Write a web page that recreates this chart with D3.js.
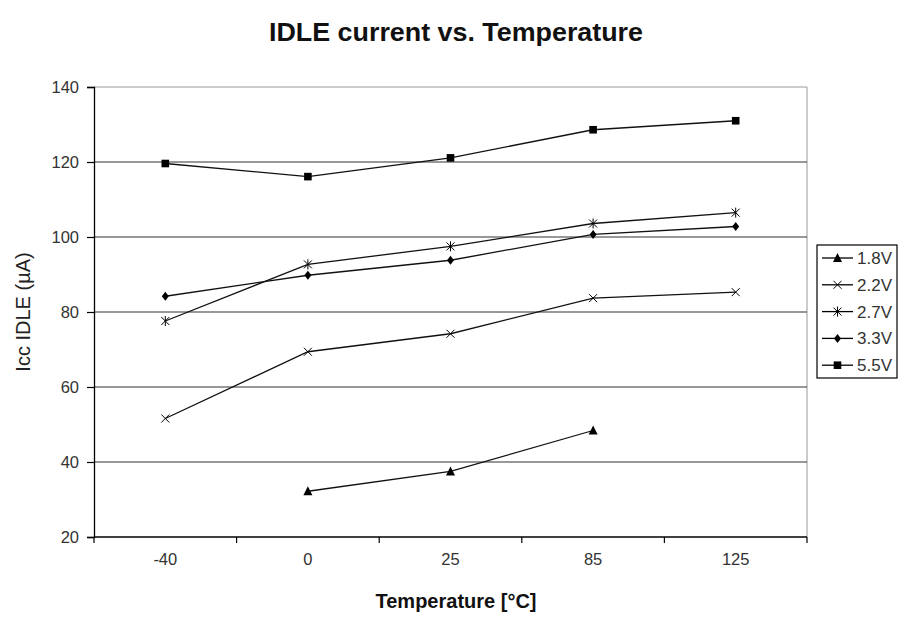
<!DOCTYPE html>
<html>
<head>
<meta charset="utf-8">
<script src="https://cdn.jsdelivr.net/npm/d3@7"></script>
<style>
  body { margin: 0; background: #fff; }
  text { font-family: "Liberation Sans", Arial, sans-serif; }
</style>
</head>
<body>
<script>
// temperature categories on the x axis
var temps = ["-40", "0", "25", "85", "125"];
var yTicks = [20, 40, 60, 80, 100, 120, 140];

// Icc IDLE values (uA), null where no point
var v18 = [null, 32.2, 37.5, 48.4, null];
var v22 = [51.6, 69.4, 74.2, 83.7, 85.3];
var v27 = [77.6, 92.7, 97.5, 103.6, 106.5];
var v33 = [84.2, 89.8, 93.8, 100.7, 102.8];
var v55 = [119.6, 116.1, 121.1, 128.6, 131.0];

var seriesNames = ["1.8V", "2.2V", "2.7V", "3.3V", "5.5V"];
var seriesVals = [v18, v22, v27, v33, v55];
var markers = ["triangle", "cross", "star", "diamond", "square"];

drawChart();

function drawChart(){
    var width = 899, height = 642;
    var pLeft = 94, pRight = 807, pTop = 87, pBottom = 537;

    var svg = d3.select("body").append("svg")
        .attr("width", width)
        .attr("height", height);

    var x = d3.scaleBand().domain(temps).range([pLeft, pRight]);
    var y = d3.scaleLinear().domain([20, 140]).range([pBottom, pTop]);

    //plot border (top and right, light grey)
    svg.append("path")
        .attr("d", "M" + pLeft + "," + y(140) + "H" + pRight + "V" + pBottom)
        .attr("fill", "none")
        .attr("stroke", "#999")
        .attr("stroke-width", 1);

    //gridlines
    svg.selectAll(".grid")
        .data(yTicks.filter(function(d){ return d > 20 && d < 140; }))
        .enter().append("line")
        .attr("x1", pLeft).attr("x2", pRight)
        .attr("y1", function(d){ return y(d); })
        .attr("y2", function(d){ return y(d); })
        .attr("stroke", "#333")
        .attr("stroke-width", 1.2);

    //y axis
    var yAxis = svg.append("g")
        .attr("transform", "translate(" + pLeft + ",0)")
        .call(d3.axisLeft(y).tickValues(yTicks).tickSize(7).tickPadding(8));
    yAxis.select(".domain").attr("stroke", "#000").attr("stroke-width", 1.3);
    yAxis.selectAll(".tick line").attr("stroke", "#000").attr("stroke-width", 1.2);
    yAxis.selectAll("text").attr("font-size", 16.5).attr("fill", "#333")
        .style("font-family", "'Liberation Sans', Arial, sans-serif");

    //x axis: labels in the middle of bands, ticks at band edges
    var xAxis = svg.append("g")
        .attr("transform", "translate(0," + pBottom + ")")
        .call(d3.axisBottom(x).tickSize(0).tickPadding(16));
    xAxis.select(".domain").remove();
    xAxis.selectAll("text").attr("font-size", 16.5).attr("fill", "#333")
        .style("font-family", "'Liberation Sans', Arial, sans-serif");

    svg.append("line")
        .attr("x1", pLeft).attr("x2", pRight)
        .attr("y1", pBottom).attr("y2", pBottom)
        .attr("stroke", "#000").attr("stroke-width", 1.3);

    var edges = temps.map(function(t){ return x(t); }).concat([x(temps[temps.length - 1]) + x.bandwidth()]);
    svg.selectAll(".xtick")
        .data(edges)
        .enter().append("line")
        .attr("x1", function(d){ return d; }).attr("x2", function(d){ return d; })
        .attr("y1", pBottom).attr("y2", pBottom + 6)
        .attr("stroke", "#000").attr("stroke-width", 1.2);

    var line = d3.line()
        .defined(function(d){ return d.v != null; })
        .x(function(d){ return x(d.t) + x.bandwidth() / 2; })
        .y(function(d){ return y(d.v); });

    seriesVals.forEach(function(vals, i){
        var pts = vals.map(function(v, j){ return {t: temps[j], v: v}; });
        var g = svg.append("g");
        g.append("path")
            .datum(pts)
            .attr("d", line)
            .attr("fill", "none")
            .attr("stroke", "#111")
            .attr("stroke-width", 1.3);
        pts.forEach(function(p){
            if (p.v != null) drawMarker(g, markers[i], x(p.t) + x.bandwidth() / 2, y(p.v));
        });
    });

    //legend
    var lg = svg.append("g").attr("transform", "translate(817,245)");
    lg.append("rect").attr("x", 0).attr("y", 0).attr("width", 80).attr("height", 133)
        .attr("fill", "#fff").attr("stroke", "#000").attr("stroke-width", 1.2);
    seriesNames.forEach(function(name, i){
        var yy = 13 + i * 26.8;
        lg.append("line").attr("x1", 5).attr("x2", 36).attr("y1", yy).attr("y2", yy)
            .attr("stroke", "#000").attr("stroke-width", 1.3);
        drawMarker(lg, markers[i], 20.5, yy);
        lg.append("text").attr("x", 40).attr("y", yy + 6)
            .attr("font-size", 17).attr("fill", "#333").text(name);
    });

    //titles
    svg.append("text")
        .attr("x", 456).attr("y", 41)
        .attr("text-anchor", "middle")
        .attr("font-size", 25).attr("font-weight", "bold").attr("fill", "#111")
        .attr("textLength", 374).attr("lengthAdjust", "spacingAndGlyphs")
        .text("IDLE current vs. Temperature");

    svg.append("text")
        .attr("x", 456).attr("y", 608)
        .attr("text-anchor", "middle")
        .attr("font-size", 20).attr("font-weight", "bold").attr("fill", "#111")
        .text("Temperature [°C]");

    svg.append("text")
        .attr("transform", "translate(30," + ((pTop + pBottom) / 2) + ") rotate(-90)")
        .attr("text-anchor", "middle")
        .attr("font-size", 20).attr("fill", "#222")
        .text("Icc IDLE (µA)");
}

//marker drawing
function drawMarker(g, type, cx, cy) {
    var s;
    if (type == "triangle") {
        g.append("path").attr("d", "M" + cx + "," + (cy - 5) + "L" + (cx + 4.5) + "," + (cy + 4) + "L" + (cx - 4.5) + "," + (cy + 4) + "Z")
            .attr("fill", "#000");
    } else if (type == "square") {
        g.append("rect").attr("x", cx - 3.8).attr("y", cy - 3.8).attr("width", 7.6).attr("height", 7.6).attr("fill", "#000");
    } else if (type == "diamond") {
        g.append("path").attr("d", "M" + cx + "," + (cy - 4.5) + "L" + (cx + 3.5) + "," + cy + "L" + cx + "," + (cy + 4.5) + "L" + (cx - 3.5) + "," + cy + "Z")
            .attr("fill", "#000");
    } else {
        s = 4;
        var d = "M" + (cx - s) + "," + (cy - s) + "L" + (cx + s) + "," + (cy + s) +
                "M" + (cx + s) + "," + (cy - s) + "L" + (cx - s) + "," + (cy + s);
        if (type == "star") d += "M" + cx + "," + (cy - s - 1) + "L" + cx + "," + (cy + s + 1);
        g.append("path").attr("d", d).attr("stroke", "#000").attr("stroke-width", 1).attr("fill", "none");
    }
}
</script>
</body>
</html>
